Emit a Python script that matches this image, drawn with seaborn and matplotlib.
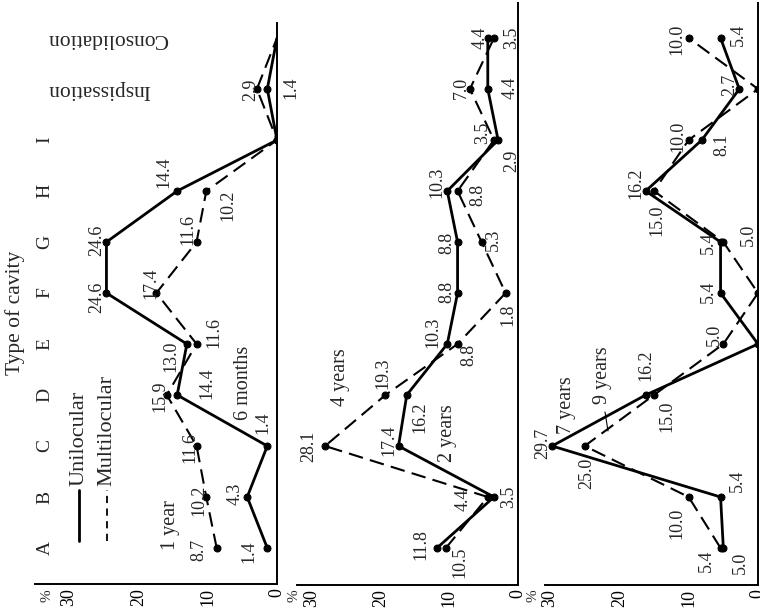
import matplotlib
matplotlib.use("Agg")
import matplotlib.pyplot as plt
import seaborn as sns

# cavity types, bottom to top in the rotated layout
categories = ["A", "B", "C", "D", "E", "F", "G", "H", "I", "Inspissation", "Consolidation"]

# panel 1
months6 = [1.4, 4.3, 1.4, 14.4, 13.0, 24.6, 24.6, 14.4, 0, 1.4, 0]
year1 = [8.7, 10.2, 11.6, 15.9, 11.6, 17.4, 11.6, 10.2, 0, 2.9, 0]
# panel 2
years2 = [11.8, 3.5, 17.4, 16.2, 10.3, 8.8, 8.8, 10.3, 2.9, 4.4, 4.4]
years4 = [10.5, 4.4, 28.1, 19.3, 8.8, 1.8, 5.3, 8.8, 3.5, 7.0, 3.5]
# panel 3
years7 = [5.0, 5.4, 29.7, 16.2, 0, 5.4, 5.4, 16.2, 8.1, 2.7, 5.4]
years9 = [5.4, 10.0, 25.0, 15.0, 5.0, 0, 5.0, 15.0, 10.0, 0, 10.0]

pct_ticks = [30, 20, 10, 0]

# label offsets (pixels) from each point, None = no label
off_m6 = [(-18, -4), (-12, 3), (-4, 23), (30, 12), (-16, -12), (-10, -4), (-10, 2), (-13, 19), None, (24, 1), None]
off_y1 = [(-18, -2), (-7, -3), (-7, -2), (-7, -1), (17, 11), (-5, 10), (-9, 12), (22, -14), None, (-6, -1), None]
off_y2 = [(-16, 3), (15, 0), (-10, 6), (13, -22), (-14, 12), (-11, 1), (-11, -1), (-10, 9), (14, -21), (22, 1), (-8, 0)]
off_y4 = [(14, -14), (-25, -3), (-16, 0), (-3, 22), (11, -11), (2, -22), (12, 2), (20, -4), (-11, 7), (-9, 1), (18, 0)]
off_y7 = [(17, -15), (17, 16), (-9, 3), (0, 30), None, (-12, 1), (-12, -1), (-10, 8), (20, -5), (-10, 4), (18, 3)]
off_y9 = [(-14, -13), (-12, -26), (2, -27), (13, -21), (-9, 9), None, (25, 7), (3, -29), (-11, 4), None, (-12, -1)]

W, H = 760, 613


def fig_xy(x, y):
    return x / W, 1 - y / H


def make_axes(fig, left, right, top, bottom, scale, pct_x):
    ax = fig.add_axes([left / W, 1 - bottom / H, (right - left) / W, (bottom - top) / H])
    ax.set_xlim((right - left) / scale, 0)
    ax.set_ylim((548 - bottom) / 51, (548 - top) / 51)
    for side in ["top", "left"]:
        ax.spines[side].set_visible(False)
    for side in ["bottom", "right"]:
        ax.spines[side].set_linewidth(1.4)
        ax.spines[side].set_color("black")
    ax.set_xticks(pct_ticks)
    ax.set_xticklabels([str(t) for t in pct_ticks])
    ax.tick_params(axis="x", direction="in", length=7, width=1.3, pad=3,
                   labelsize=13, labelrotation=90, colors="black")
    ax.set_yticks([])
    ax.set_xlabel("")
    ax.set_ylabel("")
    ax.patch.set_alpha(0)
    fig.text(*fig_xy(pct_x, 596), "%", rotation=90, ha="center", va="center", fontsize=11)
    return ax


def draw_series(ax, values, dashed, offsets, skip_last_marker=False):
    pos = list(range(len(categories)))
    n = len(values)
    markevery = list(range(n - 1)) if skip_last_marker else None
    sns.lineplot(x=values, y=pos, sort=False, estimator=None, color="black",
                 linewidth=1.5 if dashed else 2.0, marker="o", markersize=5,
                 markeredgecolor="black", markevery=markevery, ax=ax, legend=False)
    line = ax.lines[-1]
    if dashed:
        line.set_dashes((7, 3.5))
    for v, p, off in zip(values, pos, offsets):
        if off is None:
            continue
        ax.annotate(f"{v:.1f}", (v, p), xytext=off, textcoords="offset pixels",
                    rotation=90, ha="center", va="center", fontsize=13,
                    annotation_clip=False)


sns.set_style("white")
plt.rcParams["font.family"] = ["Liberation Serif", "DejaVu Serif"]

fig = plt.figure(figsize=(7.6, 6.13), dpi=100)

ax1 = make_axes(fig, 35, 277, 23, 584, 6.933, 47)
ax2 = make_axes(fig, 297, 518, 3, 585, 6.867, 294)
ax3 = make_axes(fig, 545, 758, 3, 585, 6.933, 533)

draw_series(ax1, months6, False, off_m6, skip_last_marker=True)
draw_series(ax1, year1, True, off_y1, skip_last_marker=True)
draw_series(ax2, years2, False, off_y2)
draw_series(ax2, years4, True, off_y4)
draw_series(ax3, years7, False, off_y7)
draw_series(ax3, years9, True, off_y9)

# category labels on the left
for i, cat in enumerate(categories[:9]):
    fig.text(*fig_xy(45, 548 - 51 * i), cat, rotation=90, ha="center", va="center", fontsize=14)
fig.text(*fig_xy(47, 89), categories[9], rotation=180, ha="left", va="center", fontsize=15.5)
fig.text(*fig_xy(47, 39), categories[10], rotation=180, ha="left", va="center", fontsize=15.5)
fig.text(*fig_xy(15, 313), "Type of cavity", rotation=90, ha="center", va="center", fontsize=15.5)

# legend drawn by hand
fig.add_artist(plt.Line2D([79 / W, 79 / W], [1 - 541 / H, 1 - 490 / H], color="black", lw=2.0))
dash = plt.Line2D([107 / W, 107 / W], [1 - 541 / H, 1 - 490 / H], color="black", lw=1.3)
dash.set_dashes((4, 3))
fig.add_artist(dash)
fig.text(*fig_xy(79, 486), "Unilocular", rotation=90, ha="center", va="bottom", fontsize=16)
fig.text(*fig_xy(107, 486), "Multilocular", rotation=90, ha="center", va="bottom", fontsize=16)

# series names
for x, y, name in [(170, 525, "1 year"), (244, 383, "6 months"), (340, 377, "4 years"),
                   (448, 433, "2 years"), (566, 405, "7 years"), (603, 375, "9 years")]:
    fig.text(*fig_xy(x, y), name, rotation=90, ha="center", va="center", fontsize=14.5)
fig.add_artist(plt.Line2D([605 / W, 608 / W], [1 - 412 / H, 1 - 431 / H], color="black", lw=0.8))

fig.savefig("out.png", dpi=100)
